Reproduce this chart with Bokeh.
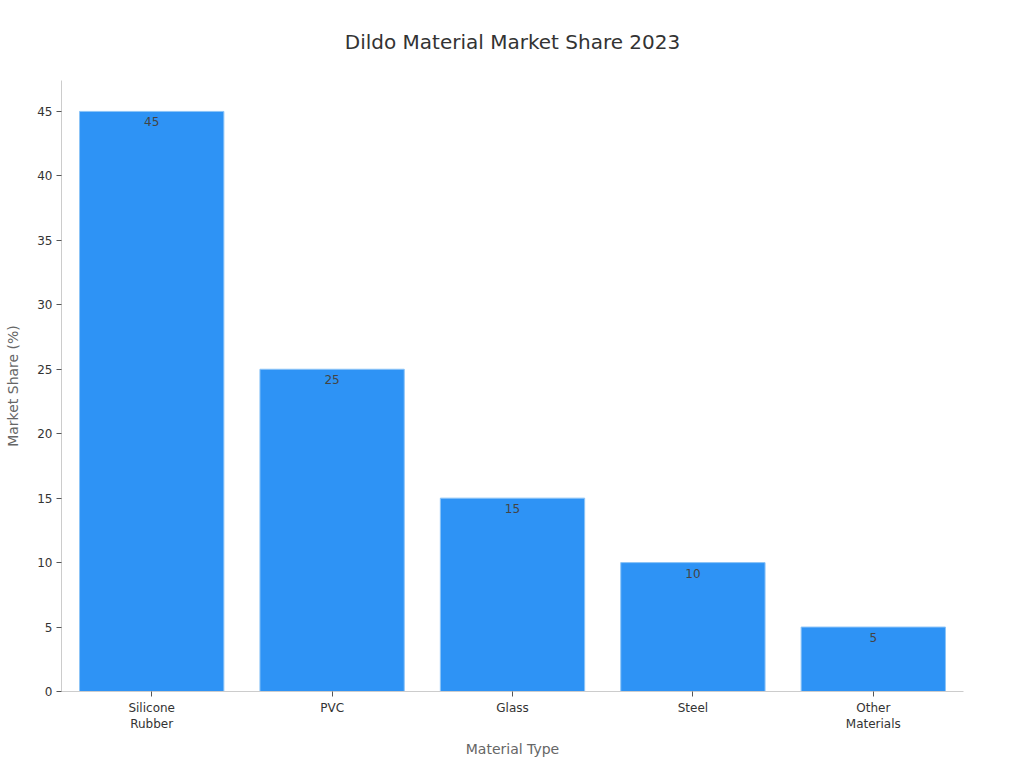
from bokeh.plotting import figure
from bokeh.models import ColumnDataSource, Range1d, FactorRange, LabelSet
from bokeh.core.properties import value
from bokeh.embed import file_html
from bokeh.resources import INLINE

TITLE = "Dildo Material Market Share 2023"
categories = ["Silicone\nRubber", "PVC", "Glass", "Steel", "Other\nMaterials"]
shares = [45, 25, 15, 10, 5]
labels = [str(v) for v in shares]

src = ColumnDataSource(dict(cat=categories, val=shares, lab=labels))

FONT = "DejaVu Sans"

p = figure(width=1008, height=760, output_backend="svg", toolbar_location=None,
           x_range=FactorRange(*categories, range_padding=0),
           y_range=Range1d(0, 47.4),
           min_border_left=61, min_border_right=45, min_border_top=80, min_border_bottom=69,
           title=TITLE)

p.vbar(x="cat", top="val", width=0.8, source=src,
       fill_color="#2E93F5", line_color="#8CC4F7", line_width=1)

p.add_layout(LabelSet(x="cat", y="val", text="lab", source=src,
                      text_align="center", text_baseline="top", y_offset=-6,
                      text_font=value(FONT), text_font_size="12px", text_color="#444444"))

p.title.align = "center"
p.title.text_font = FONT
p.title.text_font_size = "20px"
p.title.text_font_style = "normal"
p.title.text_color = "#333333"
p.title.standoff = 54

p.grid.visible = False
p.outline_line_color = None
p.background_fill_color = "white"
p.border_fill_color = "white"

for ax in (p.xaxis[0], p.yaxis[0]):
    ax.axis_line_color = "#CCCCCC"
    ax.major_tick_line_color = "#555555"
    ax.minor_tick_line_color = None
    ax.major_tick_out = 5
    ax.major_tick_in = 0
    ax.major_label_text_font = FONT
    ax.major_label_text_font_size = "12px"
    ax.major_label_text_color = "#333333"
    ax.axis_label_text_font = FONT
    ax.axis_label_text_font_size = "14px"
    ax.axis_label_text_font_style = "normal"
    ax.axis_label_text_color = "#666666"

p.xaxis.axis_label = "Material Type"
p.yaxis.axis_label = "Market Share (%)"
p.yaxis.ticker = [0, 5, 10, 15, 20, 25, 30, 35, 40, 45]
p.xaxis.major_label_standoff = 4
p.xaxis.axis_label_standoff = 7
p.yaxis.major_label_standoff = 4
p.yaxis.axis_label_standoff = 13

open("out.html", "w").write(file_html(p, INLINE))
